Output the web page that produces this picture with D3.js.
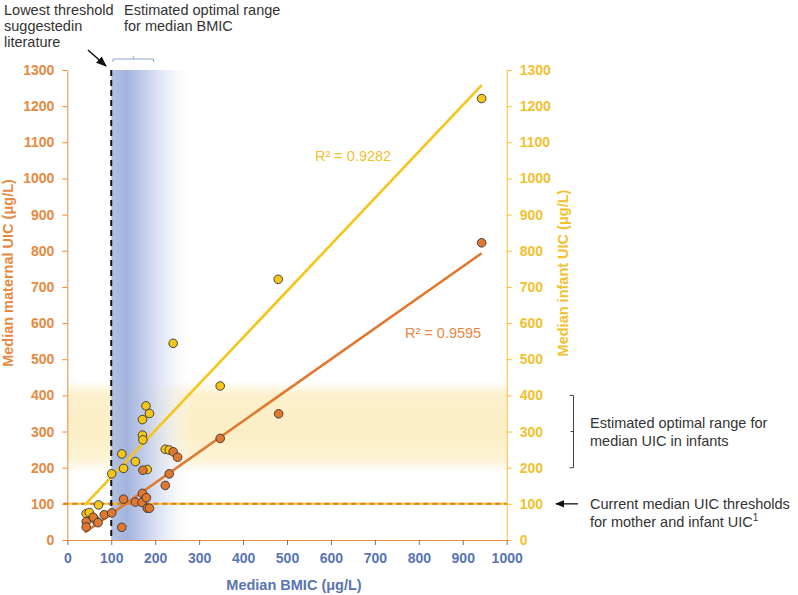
<!DOCTYPE html>
<html>
<head>
<meta charset="utf-8">
<script src="https://cdnjs.cloudflare.com/ajax/libs/d3/7.8.5/d3.min.js"></script>
<style>
  html, body { margin: 0; padding: 0; background: #fff; }
  svg { display: block; font-family: "Liberation Sans", Arial, sans-serif; }
</style>
</head>
<body>
<svg id="chart" width="798" height="595"></svg>
<script>
// ---------- DATA ----------
const bmicTicks = [0, 100, 200, 300, 400, 500, 600, 700, 800, 900, 1000];
const uicTicks = [0, 100, 200, 300, 400, 500, 600, 700, 800, 900, 1000, 1100, 1200, 1300];

// Infant UIC (yellow, right axis)
const infantBMIC = [43, 50, 65, 71, 101, 124, 128, 155, 171, 171, 172, 179, 187, 182, 223, 232, 241, 348, 480, 943];
const infantUIC  = [73, 76, 54, 97, 183, 238, 198, 217, 333, 290, 277, 371, 350, 195, 251, 249, 544, 426, 721, 1221];

// Maternal UIC (orange, left axis)
const maternalBMIC = [43, 43, 59, 70, 84, 101, 124, 128, 155, 170, 171, 180, 182, 187, 172, 223, 232, 241, 251, 348, 481, 943];
const maternalUIC  = [51, 36, 63, 48, 70, 75, 35, 113, 105, 104, 129, 117, 88, 88, 193, 151, 183, 244, 229, 281, 349, 822];

// Linear trend lines
const infantTrendBMIC = [40, 943];
const infantTrendUIC = [97, 1258];
const maternalTrendBMIC = [40, 943];
const maternalTrendUIC = [21, 793];

const r2Infant = "R² = 0.9282";
const r2Maternal = "R² = 0.9595";

const lowestBMIC = 100;          // lowest threshold in literature
const bmicOptimal = [104, 196];  // bracket above blue band
const bmicShade = [100, 285];    // blue shaded (fading) band
const infantOptimal = [200, 400];
const infantShade = [185, 440];
const uicThreshold = 100;

// ---------- LAYOUT ----------
const svg = d3.select("#chart");
const x = d3.scaleLinear().domain([0, 1000]).range([67.3, 506.7]);
const y = d3.scaleLinear().domain([0, 1300]).range([540, 70]);
const fmt = d3.format("d");

const ORANGE = "#E8893F", YELLOW = "#F2C12E", BLUE = "#5874B4";
const ORANGE_PT = "#E0782F", YELLOW_PT = "#F5C518";
const TEXT = "#333333";

const defs = svg.append("defs");
const gY = defs.append("linearGradient").attr("id", "yband")
  .attr("x1", 0).attr("y1", 0).attr("x2", 0).attr("y2", 1);
[[0, 0], [0.15, 0.85], [0.55, 1], [0.85, 0.7], [1, 0]].forEach(([o, a]) =>
  gY.append("stop").attr("offset", o).attr("stop-color", "#FCEEC4").attr("stop-opacity", a));

const gB = defs.append("linearGradient").attr("id", "bband")
  .attr("x1", 0).attr("y1", 0).attr("x2", 1).attr("y2", 0);
[[0, "#AEBDE2", 0.95], [0.2, "#A3B4DD", 1], [0.45, "#C3CEEC", 0.9], [0.7, "#E2E8F6", 0.7], [1, "#FFFFFF", 0]].forEach(([o, c, a]) =>
  gB.append("stop").attr("offset", o).attr("stop-color", c).attr("stop-opacity", a));

defs.append("marker").attr("id", "arr").attr("viewBox", "0 0 10 10")
  .attr("refX", 9).attr("refY", 5).attr("markerWidth", 7).attr("markerHeight", 7)
  .attr("orient", "auto-start-reverse")
  .append("path").attr("d", "M0,1 L10,5 L0,9 z").attr("fill", "#111");

// Yellow band (infant optimal UIC)
svg.append("rect")
  .attr("x", x(0)).attr("width", x(1000) - x(0))
  .attr("y", y(infantShade[1])).attr("height", y(infantShade[0]) - y(infantShade[1]))
  .attr("fill", "url(#yband)");

// Blue band (optimal BMIC)
svg.append("rect")
  .attr("x", x(bmicShade[0])).attr("width", x(bmicShade[1]) - x(bmicShade[0]))
  .attr("y", y(1300)).attr("height", y(0) - y(1300))
  .attr("fill", "url(#bband)");

// ---------- AXES ----------
const styleText = (sel, c) => sel.selectAll("text").attr("fill", c).attr("font-size", 14)
  .attr("font-weight", "bold").attr("font-family", "Liberation Sans, Arial, sans-serif");

const axL = svg.append("g").attr("transform", `translate(${x(0)},0)`)
  .call(d3.axisLeft(y).tickValues(uicTicks).tickFormat(fmt).tickSize(5).tickPadding(8).tickSizeOuter(0));
axL.select(".domain").attr("stroke", ORANGE);
axL.selectAll(".tick line").attr("stroke", ORANGE);
styleText(axL, ORANGE);

const axR = svg.append("g").attr("transform", `translate(${x(1000)},0)`)
  .call(d3.axisRight(y).tickValues(uicTicks).tickFormat(fmt).tickSize(5).tickPadding(8).tickSizeOuter(0));
axR.select(".domain").attr("stroke", YELLOW);
axR.selectAll(".tick line").attr("stroke", YELLOW);
styleText(axR, YELLOW);

const axB = svg.append("g").attr("transform", `translate(0,${y(0)})`)
  .call(d3.axisBottom(x).tickValues(bmicTicks).tickFormat(fmt).tickSize(5).tickPadding(8).tickSizeOuter(0));
axB.select(".domain").attr("stroke", ORANGE);
axB.selectAll(".tick line").attr("stroke", "#777");
styleText(axB, BLUE);

// Axis titles
const titleY = 273;
svg.append("text").attr("transform", `translate(13,${titleY}) rotate(-90)`)
  .attr("text-anchor", "middle").attr("fill", ORANGE).attr("font-weight", "bold").attr("font-size", 14.5)
  .text("Median maternal UIC (μg/L)");
svg.append("text").attr("transform", `translate(568,${titleY}) rotate(-90)`)
  .attr("text-anchor", "middle").attr("fill", YELLOW).attr("font-weight", "bold").attr("font-size", 14.5)
  .text("Median infant UIC (μg/L)");
svg.append("text").attr("x", 294).attr("y", 590)
  .attr("text-anchor", "middle").attr("fill", BLUE).attr("font-weight", "bold").attr("font-size", 14.5)
  .text("Median BMIC (μg/L)");

// ---------- REFERENCE LINES ----------
svg.append("line").attr("x1", x(0) - 4).attr("x2", x(1000))
  .attr("y1", y(uicThreshold)).attr("y2", y(uicThreshold))
  .attr("stroke", YELLOW_PT).attr("stroke-width", 2);
svg.append("line").attr("x1", x(0) - 4).attr("x2", x(1000))
  .attr("y1", y(uicThreshold)).attr("y2", y(uicThreshold))
  .attr("stroke", ORANGE_PT).attr("stroke-width", 2).attr("stroke-dasharray", "5,4");

svg.append("line").attr("x1", x(lowestBMIC)).attr("x2", x(lowestBMIC))
  .attr("y1", y(1300)).attr("y2", y(0))
  .attr("stroke", "#111").attr("stroke-width", 2).attr("stroke-dasharray", "6,4");

// ---------- TREND LINES ----------
const line = d3.line().x(d => x(d[0])).y(d => y(d[1]));
svg.append("path").datum(infantTrendBMIC.map((v, i) => [v, infantTrendUIC[i]]))
  .attr("d", line).attr("stroke", YELLOW_PT).attr("stroke-width", 2.6).attr("fill", "none");
svg.append("path").datum(maternalTrendBMIC.map((v, i) => [v, maternalTrendUIC[i]]))
  .attr("d", line).attr("stroke", ORANGE_PT).attr("stroke-width", 2.6).attr("fill", "none");

// ---------- POINTS ----------
svg.append("g").selectAll("circle")
  .data(infantBMIC.map((v, i) => [v, infantUIC[i]]))
  .join("circle").attr("cx", d => x(d[0])).attr("cy", d => y(d[1])).attr("r", 4.3)
  .attr("fill", YELLOW_PT).attr("stroke", "#333").attr("stroke-width", 0.9);
svg.append("g").selectAll("circle")
  .data(maternalBMIC.map((v, i) => [v, maternalUIC[i]]))
  .join("circle").attr("cx", d => x(d[0])).attr("cy", d => y(d[1])).attr("r", 4.3)
  .attr("fill", ORANGE_PT).attr("stroke", "#333").attr("stroke-width", 0.9);

svg.append("text").attr("x", 315).attr("y", 161).attr("fill", YELLOW).attr("font-size", 14.5).text(r2Infant);
svg.append("text").attr("x", 405).attr("y", 338).attr("fill", ORANGE).attr("font-size", 14.5).text(r2Maternal);

// ---------- ANNOTATIONS ----------
const ann = (tx, ty, s) => svg.append("text").attr("x", tx).attr("y", ty)
  .attr("fill", TEXT).attr("font-size", 14.5).text(s);
ann(4, 15, "Lowest threshold");
ann(4, 31, "suggestedin");
ann(4, 47, "literature");
ann(124, 15, "Estimated optimal range");
ann(124, 31, "for median BMIC");

svg.append("line").attr("x1", 88).attr("y1", 50).attr("x2", 106).attr("y2", 66)
  .attr("stroke", "#111").attr("stroke-width", 1.5).attr("marker-end", "url(#arr)");

const bx0 = x(bmicOptimal[0]), bx1 = x(bmicOptimal[1]), by = 59;
svg.append("path")
  .attr("d", `M${bx0},${by + 3} L${bx0},${by} L${bx1},${by} L${bx1},${by + 3} M${(bx0 + bx1) / 2},${by} L${(bx0 + bx1) / 2},${by - 3}`)
  .attr("stroke", "#8EA5D4").attr("stroke-width", 1).attr("fill", "none");

const rx = 573.5, ry0 = y(infantOptimal[1]), ry1 = y(infantOptimal[0]);
svg.append("path")
  .attr("d", `M${rx - 4},${ry0} L${rx},${ry0} L${rx},${ry1} L${rx - 4},${ry1} M${rx},${(ry0 + ry1) / 2} L${rx - 3},${(ry0 + ry1) / 2}`)
  .attr("stroke", "#444").attr("stroke-width", 1).attr("fill", "none");
ann(590, 428, "Estimated optimal range for");
ann(590, 446, "median UIC in infants");

svg.append("line").attr("x1", 578).attr("y1", y(uicThreshold)).attr("x2", 556).attr("y2", y(uicThreshold))
  .attr("stroke", "#111").attr("stroke-width", 1.3).attr("marker-end", "url(#arr)");
ann(590, y(uicThreshold) + 5, "Current median UIC thresholds");
const t2 = ann(590, y(uicThreshold) + 23, "for mother and infant UIC");
t2.append("tspan").attr("dy", -6).attr("font-size", 10).text("1");
</script>
</body>
</html>
